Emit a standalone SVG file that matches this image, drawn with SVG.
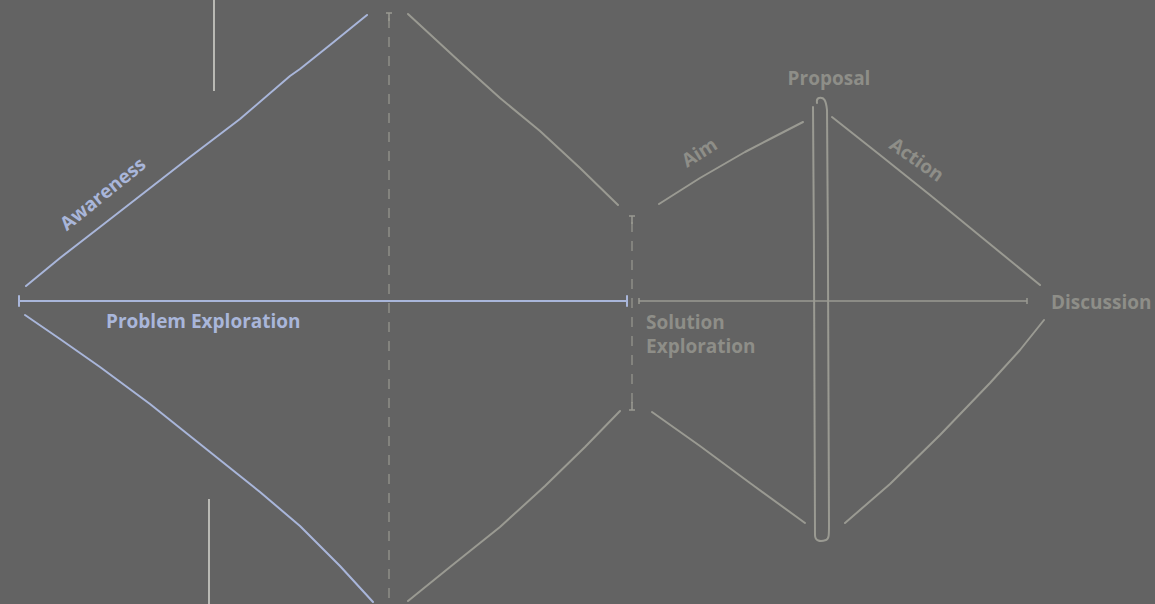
<svg xmlns="http://www.w3.org/2000/svg" width="1155" height="604" viewBox="0 0 1155 604">
<style>
.blue{stroke:#a9b6da;fill:none;stroke-width:2;stroke-linecap:round;stroke-linejoin:round}
.grey{stroke:#9a9a92;fill:none;stroke-width:2;stroke-linecap:round;stroke-linejoin:round}
.thin{stroke:#9a9a92;fill:none;stroke-width:1.5}
.dash{stroke:#8e8e88;fill:none;stroke-width:1.5;stroke-dasharray:10,9}
.white{stroke:#cfcfc8;fill:none;stroke-width:1.6}
text{font-family:"Open Sans","Noto Sans","Liberation Sans",sans-serif;font-weight:bold;font-size:19px}
.tb{fill:#a9b6da}
.tg{fill:#8e8e88}
</style>
<rect width="1155" height="604" fill="#636363"/>
<g id="connectors">
<line class="white" x1="214" y1="0" x2="214" y2="91"/>
<line class="white" x1="209" y1="499" x2="209" y2="604"/>
<path class="blue" d="M26,286 L60,258 L100,227 L145,192 L190,157 L240,119 L290,76 L300,69 L330,45 L367,15"/>
<path class="blue" d="M25,315 L60,339 L100,367 L150,404 L180,428 L220,460 L260,492 L300,526 L340,566 L373,602"/>
<line class="blue" x1="19" y1="301" x2="627" y2="301"/>
<line class="blue" x1="19" y1="296" x2="19" y2="306"/>
<line class="blue" x1="627" y1="296" x2="627" y2="306"/>
<line class="dash" x1="389" y1="18" x2="389" y2="604"/>
<line class="thin" x1="386" y1="13" x2="392" y2="13"/>
<line class="thin" x1="389" y1="13" x2="389" y2="21"/>
<line class="dash" x1="632" y1="222" x2="632" y2="406"/>
<line class="thin" x1="629" y1="216" x2="635" y2="216"/>
<line class="thin" x1="632" y1="216" x2="632" y2="224"/>
<line class="thin" x1="629" y1="410" x2="635" y2="410"/>
<line class="thin" x1="632" y1="402" x2="632" y2="410"/>
<path class="grey" d="M408,14 L460,62 L500,98 L540,131 L580,168 L618,205"/>
<path class="grey" d="M408,601 L450,567 L500,527 L545,486 L585,447 L620,411"/>
<path class="grey" d="M659,204 L700,178 L745,152 L770,139 L803,122"/>
<path class="grey" d="M832,117 L880,155 L930,195 L985,240 L1040,285"/>
<path class="grey" d="M652,412 L700,446 L750,483 L805,523"/>
<path class="grey" d="M845,523 L890,484 L940,435 L990,383 L1020,350 L1044,320"/>
<line class="thin" x1="639" y1="301" x2="1027" y2="301"/>
<line class="thin" x1="639" y1="298" x2="639" y2="304"/>
<line class="thin" x1="1027" y1="298" x2="1027" y2="304"/>
</g>
<g id="proposal-bar">
<path class="grey" d="M813,107 C814,250 815,400 815,535 C815,541 820,542 826,540 C829,539 829,535 829,525 C829,400 828,250 827,110 C826,100 824,97 819,98 C816,99 817,101 817,103"/>
</g>
<g id="awareness"><text class="tb" font-size="18" transform="translate(107,199) rotate(-39)" text-anchor="middle">Awareness</text></g>
<g id="problem-exploration"><text class="tb" x="106" y="328">Problem Exploration</text></g>
<g id="solution-exploration"><text class="tg" x="646" y="329">Solution</text><text class="tg" x="646" y="353">Exploration</text></g>
<g id="proposal"><text class="tg" x="829" y="85" text-anchor="middle">Proposal</text></g>
<g id="aim"><text class="tg" transform="translate(703,158) rotate(-32)" text-anchor="middle">Aim</text></g>
<g id="action"><text class="tg" transform="translate(913,165) rotate(35)" text-anchor="middle">Action</text></g>
<g id="discussion"><text class="tg" x="1051" y="309">Discussion</text></g>
</svg>
